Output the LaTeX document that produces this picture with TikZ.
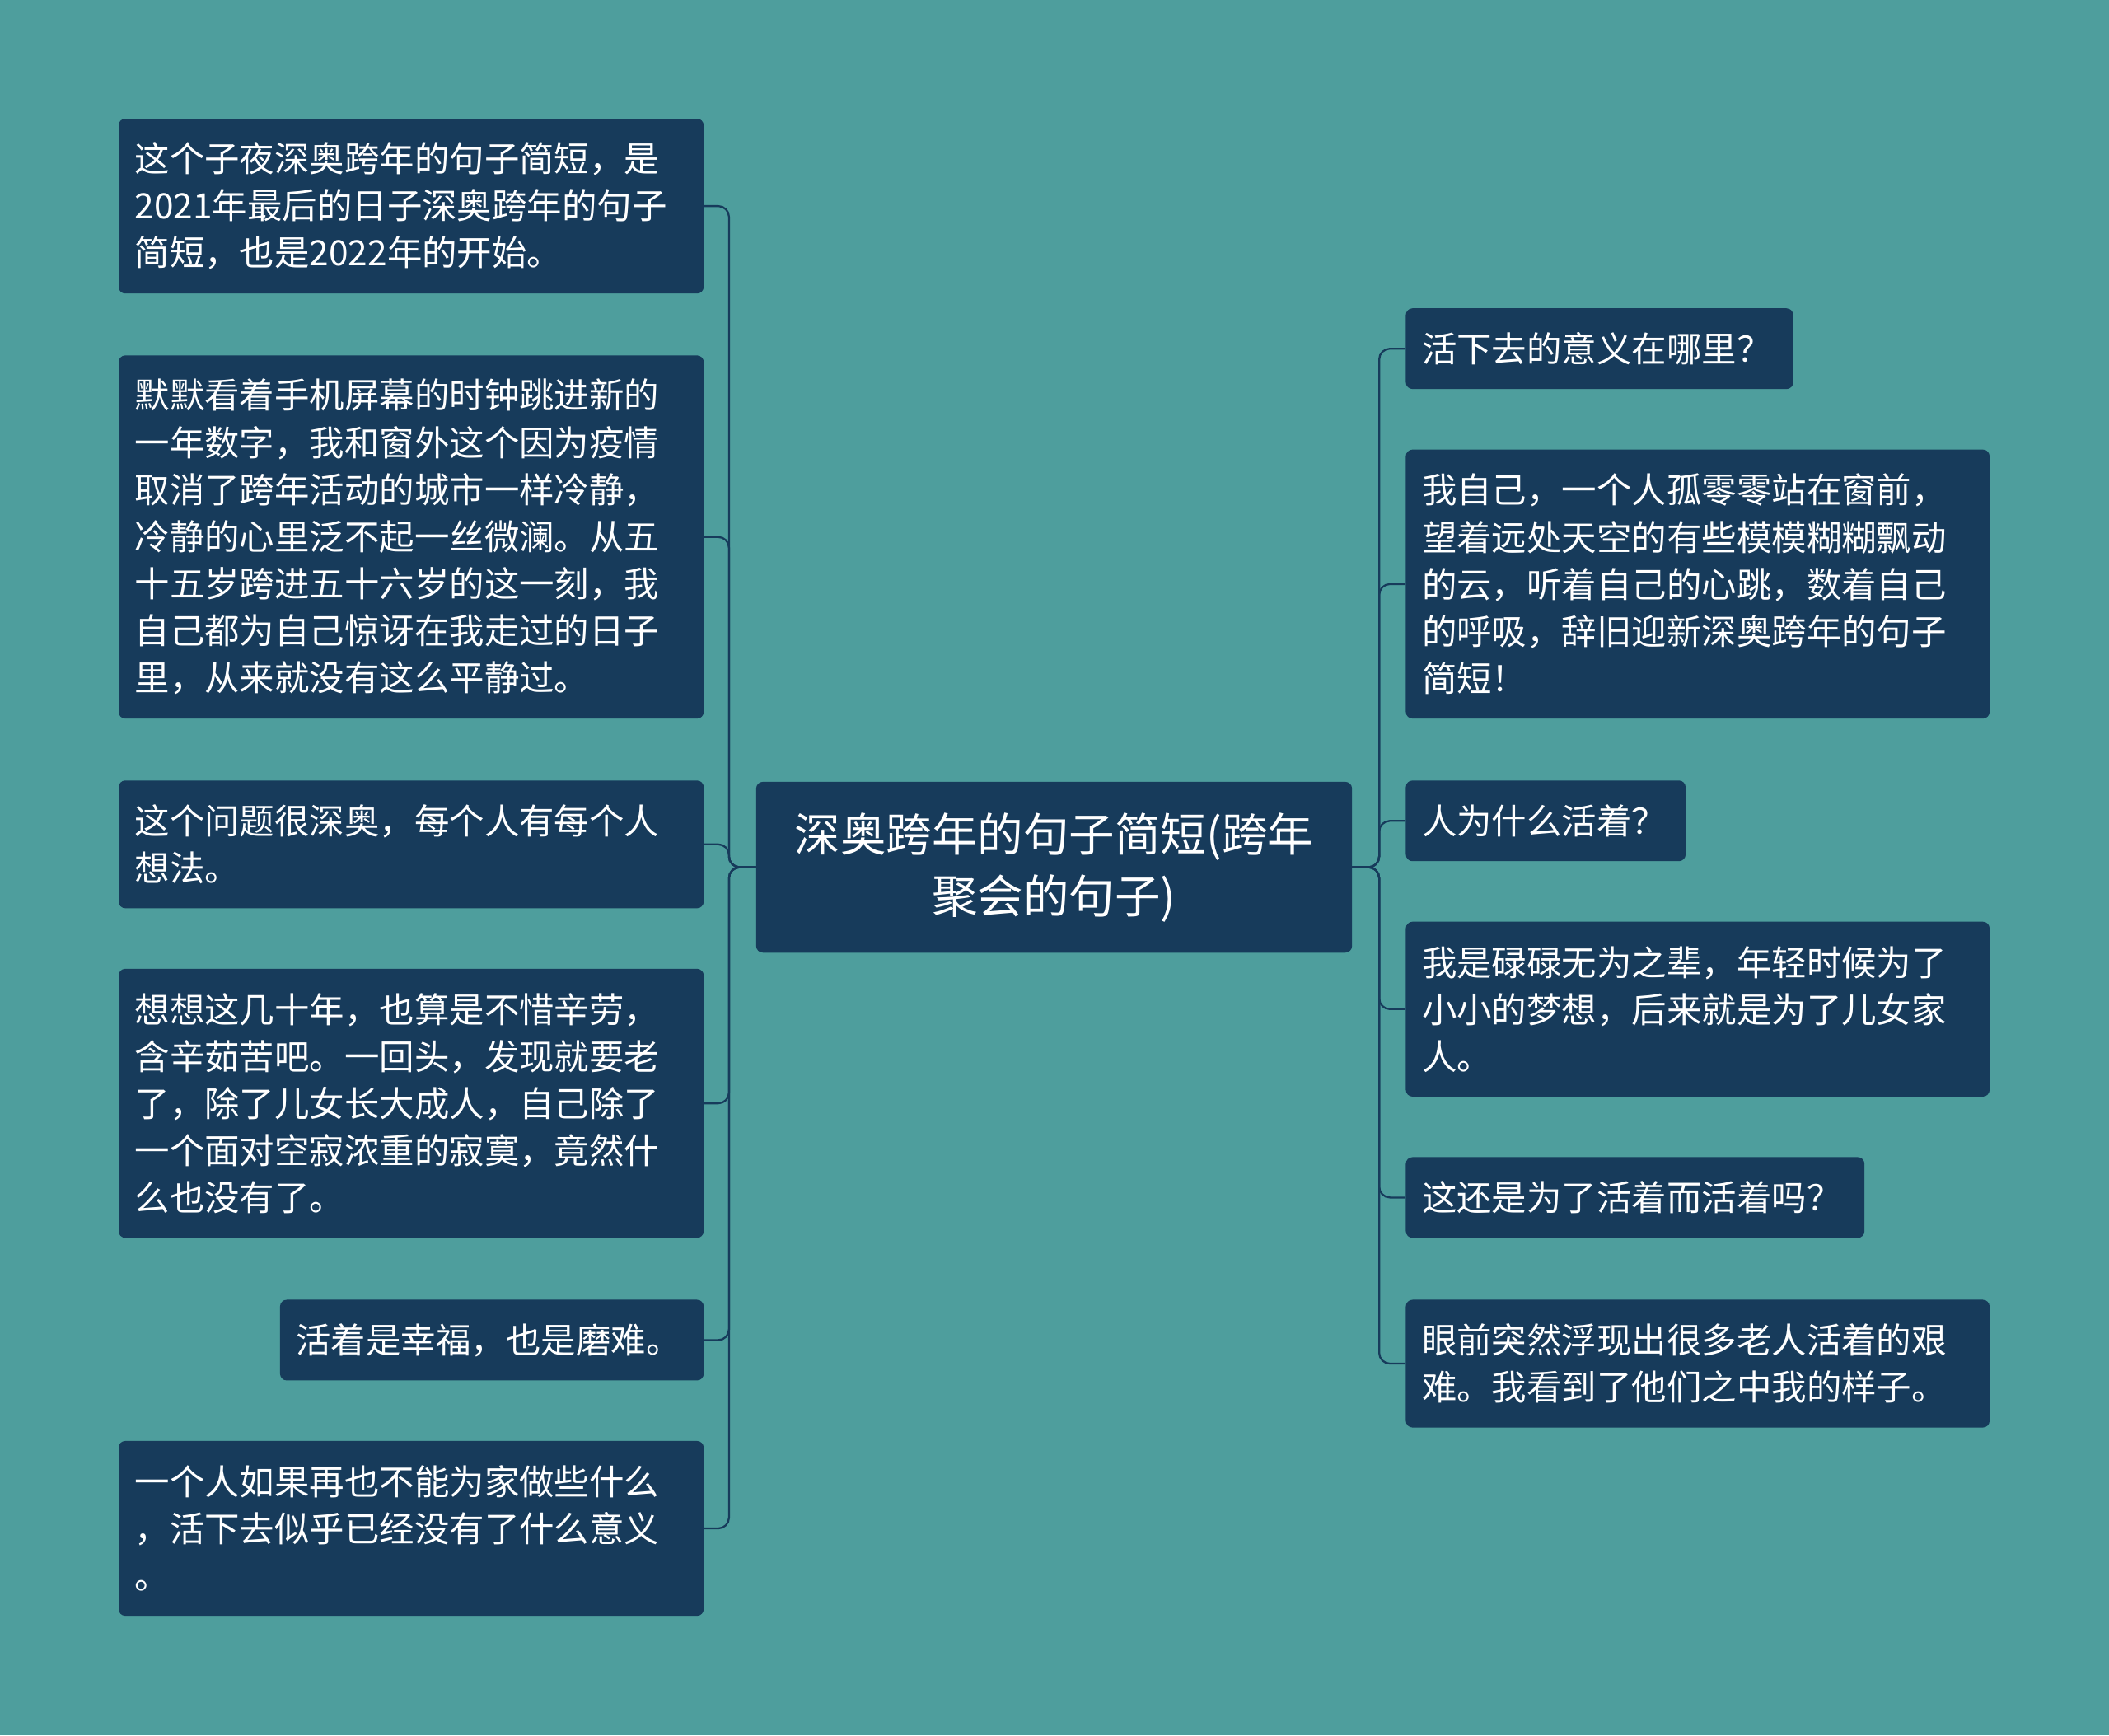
\documentclass[tikz,border=0pt]{standalone}
\usepackage{fontspec}
\setmainfont{Noto Sans CJK SC}
\begin{document}
\begin{tikzpicture}[x=1pt,y=-1pt,
 box/.style={draw=none,fill=boxc,rounded corners=5pt,text=white,anchor=north west,align=left,inner sep=0pt,font=\fontsize{26}{35}\selectfont},
 conn/.style={draw=boxc,line width=1.4pt,rounded corners=8pt}]
\definecolor{bg}{HTML}{4E9E9D}
\definecolor{boxc}{HTML}{173B5B}
\fill[bg] (0,0) rectangle (1568,1290);
\useasboundingbox (0,0) rectangle (1568,1290);
\newcommand{\bx}[6]{\node[box,minimum width=#4-#2,minimum height=#5-#3,text width=#4-#2-24] (#1) at (#2,#3) {#6};}
\node[box,align=center,font=\fontsize{34}{46}\selectfont,minimum width=443,minimum height=127,text width=419] (c) at (562,581) {深奥跨年的句子简短(跨年\\聚会的句子)};
\bx{l1}{88}{88}{523}{218}{这个子夜深奥跨年的句子简短，是\\2021年最后的日子深奥跨年的句子\\简短，也是2022年的开始。}
\bx{l2}{88}{264}{523}{534}{默默看着手机屏幕的时钟跳进新的\\一年数字，我和窗外这个因为疫情\\取消了跨年活动的城市一样冷静，\\冷静的心里泛不起一丝微澜。从五\\十五岁跨进五十六岁的这一刻，我\\自己都为自己惊讶在我走过的日子\\里，从来就没有这么平静过。}
\bx{l3}{88}{580}{523}{675}{这个问题很深奥，每个人有每个人\\想法。}
\bx{l4}{88}{720}{523}{920}{想想这几十年，也算是不惜辛劳，\\含辛茹苦吧。一回头，发现就要老\\了，除了儿女长大成人，自己除了\\一个面对空寂浓重的寂寞，竟然什\\么也没有了。}
\bx{l5}{208}{966}{523}{1026}{活着是幸福，也是磨难。}
\bx{l6}{88}{1071}{523}{1201}{一个人如果再也不能为家做些什么\\，活下去似乎已经没有了什么意义\\。}
\bx{r1}{1045}{229}{1333}{289}{活下去的意义在哪里？}
\bx{r2}{1045}{334}{1479}{534}{我自己，一个人孤零零站在窗前，\\望着远处天空的有些模模糊糊飘动\\的云，听着自己的心跳，数着自己\\的呼吸，辞旧迎新深奥跨年的句子\\简短！}
\bx{r3}{1045}{580}{1253}{640}{人为什么活着？}
\bx{r4}{1045}{685}{1479}{815}{我是碌碌无为之辈，年轻时候为了\\小小的梦想，后来就是为了儿女家\\人。}
\bx{r5}{1045}{860}{1386}{920}{这还是为了活着而活着吗？}
\bx{r6}{1045}{966}{1479}{1061}{眼前突然浮现出很多老人活着的艰\\难。我看到了他们之中我的样子。}
\foreach \n in {l1,l2,l3,l4,l5,l6}{\draw[conn] (c.west) -- ++(-20,0) |- (\n.east);}
\foreach \n in {r1,r2,r3,r4,r5,r6}{\draw[conn] (c.east) -- ++(20,0) |- (\n.west);}
\end{tikzpicture}
\end{document}
